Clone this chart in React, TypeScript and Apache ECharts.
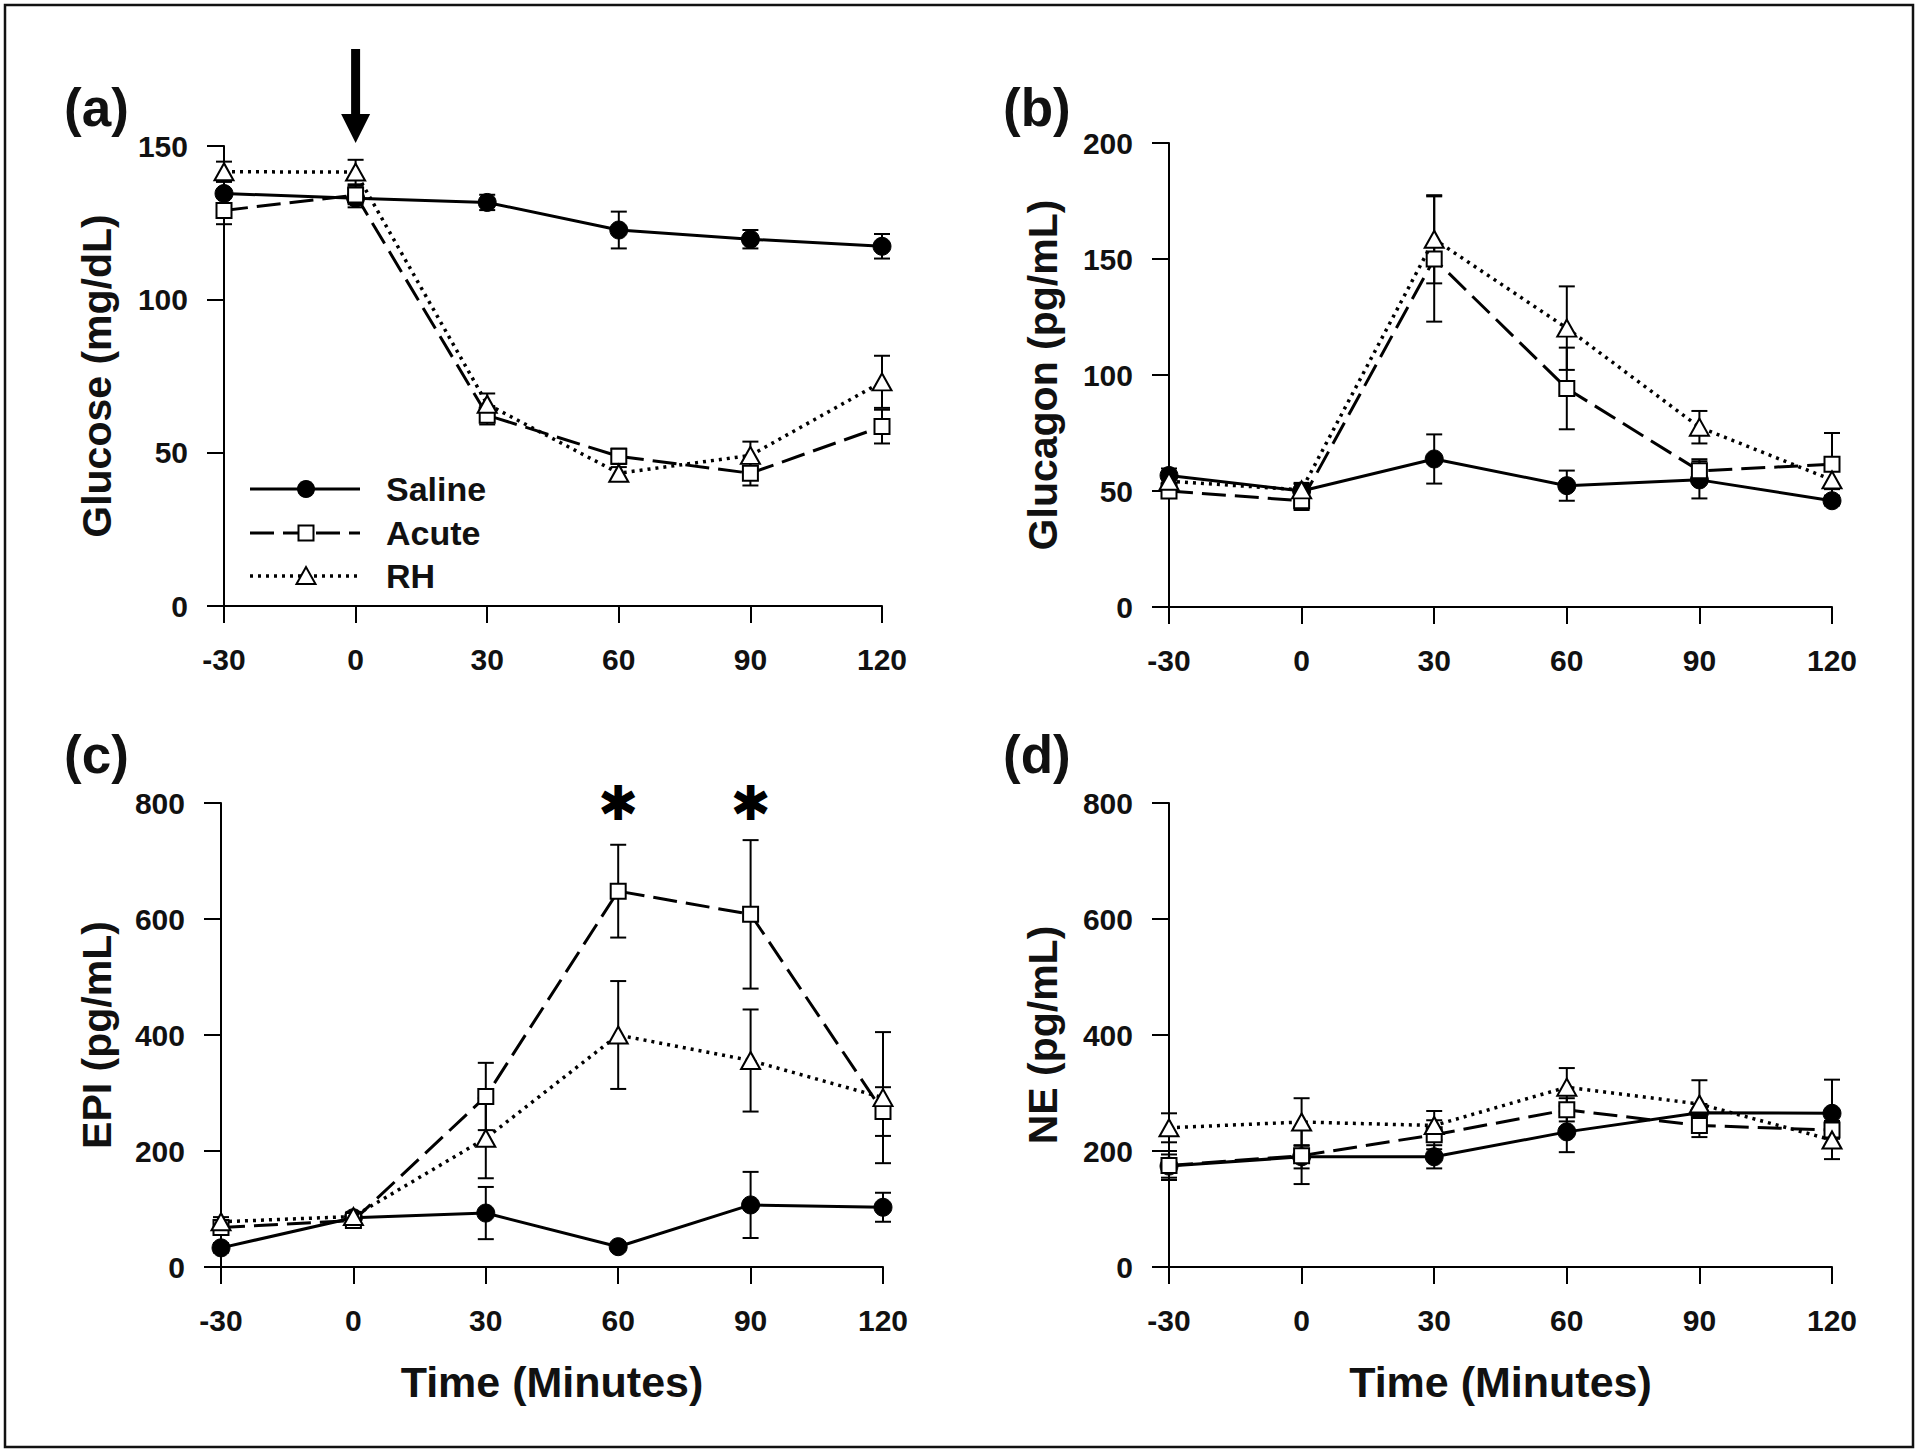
import React, { useEffect, useRef } from "react";
import * as echarts from "echarts";

// ---------- data ----------
const times = [-30, 0, 30, 60, 90, 120];

const glucoseSaline = [134.5, 133, 131.6, 122.6, 119.6, 117.3];
const glucoseSalineErr = [4, 3, 2.5, 6, 3, 4];
const glucoseAcute = [129, 134, 62.2, 48.8, 43.3, 58.5];
const glucoseAcuteErr = [4.5, 3, 3, 2.5, 4, 5.5];
const glucoseRH = [141.6, 141.5, 65.8, 43.3, 49.1, 73.1];
const glucoseRHErr = [3.3, 4, 3.5, 2, 4.5, 8.5];

const glucagonSaline = [56.7, 50, 63.8, 52.3, 54.8, 45.8];
const glucagonSalineErr = [3, 3, 10.6, 6.5, 8, 2];
const glucagonAcute = [50, 45.8, 150, 94.2, 58.7, 61.5];
const glucagonAcuteErr = [3, 4, 27, 17.6, 5, 13.5];
const glucagonRH = [54.2, 50.5, 158.5, 120.2, 77.5, 54.8];
const glucagonRHErr = [3, 3, 19, 18, 7, 4];

const epiSaline = [33, 85, 93, 35, 107, 103];
const epiSalineErr = [8, 8, 45, 6, 57, 25];
const epiAcute = [68, 80, 294, 648, 608, 268];
const epiAcuteErr = [10, 10, 58, 80, 128, 42];
const epiRH = [78, 87, 222, 400, 356, 292];
const epiRHErr = [8, 8, 69, 93, 88, 113];

const neSaline = [174, 190, 190, 233, 266, 265];
const neSalineErr = [20, 20, 20, 35, 15, 58];
const neAcute = [175, 192, 228, 271, 244, 236];
const neAcuteErr = [25, 49, 25, 20, 20, 15];
const neRH = [240, 250, 244, 310, 281, 219];
const neRHErr = [25, 41, 25, 33, 41, 33];

const seriesNames = ["Saline", "Acute", "RH"];
const panelLabels = ["(a)", "(b)", "(c)", "(d)"];
const yTitles = ["Glucose (mg/dL)", "Glucagon (pg/mL)", "EPI (pg/mL)", "NE (pg/mL)"];
const xTitle = "Time (Minutes)";
const yMax = [150, 200, 800, 800];
const yInterval = [50, 50, 200, 200];
const starTimes = [60, 90];
const starLevel = 800;
const arrowTime = 0;

const panelData = [
  [glucoseSaline, glucoseSalineErr, glucoseAcute, glucoseAcuteErr, glucoseRH, glucoseRHErr],
  [glucagonSaline, glucagonSalineErr, glucagonAcute, glucagonAcuteErr, glucagonRH, glucagonRHErr],
  [epiSaline, epiSalineErr, epiAcute, epiAcuteErr, epiRH, epiRHErr],
  [neSaline, neSalineErr, neAcute, neAcuteErr, neRH, neRHErr],
];

// ---------- styles ----------
const FONT = "'Liberation Sans', Arial, Helvetica, sans-serif";
const INK = "#111";
const grids = [
  { left: 224, top: 146, width: 658, height: 460 },
  { left: 1169, top: 143, width: 663, height: 464 },
  { left: 221, top: 803, width: 662, height: 464 },
  { left: 1169, top: 803, width: 663, height: 464 },
];

const lineStyles: any[] = [
  { color: "#000", width: 3, type: "solid" },
  { color: "#000", width: 3, type: [24, 9] },
  { color: "#000", width: 3.5, type: [3, 5] },
];
const symbols = ["circle", "rect", "triangle"];
const symbolSizes: any[] = [18, 15, [19, 17]];
const itemStyles = [
  { color: "#000", borderColor: "#000", borderWidth: 1 },
  { color: "#fff", borderColor: "#000", borderWidth: 2 },
  { color: "#fff", borderColor: "#000", borderWidth: 2 },
];

function errSeries(gi: number, name: string, vals: number[], errs: number[]) {
  return {
    type: "custom",
    name: name + " SEM",
    xAxisIndex: gi,
    yAxisIndex: gi,
    z: 1,
    silent: true,
    data: times.map((t, k) => [t, vals[k] - errs[k], vals[k] + errs[k]]),
    encode: { x: 0, y: [1, 2] },
    renderItem: (_params: any, api: any) => {
      const lo = api.coord([api.value(0), api.value(1)]);
      const hi = api.coord([api.value(0), api.value(2)]);
      const w = 8;
      const style = { stroke: "#000", lineWidth: 2, fill: "none" };
      return {
        type: "group",
        children: [
          { type: "line", shape: { x1: lo[0], y1: lo[1], x2: hi[0], y2: hi[1] }, style },
          { type: "line", shape: { x1: hi[0] - w, y1: hi[1], x2: hi[0] + w, y2: hi[1] }, style },
          { type: "line", shape: { x1: lo[0] - w, y1: lo[1], x2: lo[0] + w, y2: lo[1] }, style },
        ],
      };
    },
  };
}

function buildOption() {
  const series: any[] = [];
  panelData.forEach((pd, gi) => {
    for (let s = 0; s < 3; s++) {
      series.push(errSeries(gi, seriesNames[s], pd[s * 2], pd[s * 2 + 1]));
    }
    for (let s = 0; s < 3; s++) {
      series.push({
        type: "line",
        name: seriesNames[s],
        xAxisIndex: gi,
        yAxisIndex: gi,
        z: 2 + s,
        data: times.map((t, k) => [t, pd[s * 2][k]]),
        lineStyle: lineStyles[s],
        symbol: symbols[s],
        symbolSize: symbolSizes[s],
        showSymbol: true,
        itemStyle: itemStyles[s],
        silent: true,
      });
    }
  });

  const axisText = { fontSize: 30, fontWeight: "bold", fontFamily: FONT, color: INK };
  return {
    animation: false,
    backgroundColor: "#fff",
    grid: grids.map((g) => ({ ...g, containLabel: false })),
    xAxis: grids.map((_g, i) => ({
      gridIndex: i,
      type: "value",
      min: -30,
      max: 120,
      interval: 30,
      axisLine: { show: true, onZero: false, lineStyle: { color: "#000", width: 2 } },
      axisTick: { show: true, inside: false, length: 17, lineStyle: { color: "#000", width: 2 } },
      axisLabel: { ...axisText, margin: 38 },
      splitLine: { show: false },
    })),
    yAxis: grids.map((_g, i) => ({
      gridIndex: i,
      type: "value",
      min: 0,
      max: yMax[i],
      interval: yInterval[i],
      axisLine: { show: true, onZero: false, lineStyle: { color: "#000", width: 2 } },
      axisTick: { show: true, inside: false, length: 17, lineStyle: { color: "#000", width: 2 } },
      axisLabel: { ...axisText, margin: 36 },
      splitLine: { show: false },
    })),
    series,
  };
}

function txt(text: string, x: number, y: number, size: number, align: string, extra: any = {}) {
  return {
    type: "text",
    x,
    y,
    silent: true,
    ...extra,
    style: {
      text,
      fontSize: size,
      fontWeight: "bold",
      fontFamily: FONT,
      fill: INK,
      align,
      verticalAlign: "middle",
      textAlign: align,
      textVerticalAlign: "middle",
    },
  };
}

export default function App() {
  const ref = useRef<HTMLDivElement>(null);
  useEffect(() => {
    if (!ref.current) return;
    const chart = echarts.init(ref.current, undefined, { renderer: "svg" });
    chart.setOption(buildOption());

    const g: any[] = [];
    // frame
    g.push({
      type: "rect",
      silent: true,
      shape: { x: 5, y: 5, width: 1908, height: 1442 },
      style: { fill: "none", stroke: "#111", lineWidth: 2.5 },
      z: 0,
    });
    // panel labels
    const labelPos = [
      [64, 107],
      [1003, 107],
      [64, 754],
      [1003, 754],
    ];
    panelLabels.forEach((l, i) => g.push(txt(l, labelPos[i][0], labelPos[i][1], 53, "left")));
    // y titles
    const yTitleX = [97, 1043, 97, 1043];
    yTitles.forEach((t, i) => {
      const gr = grids[i];
      g.push(txt(t, yTitleX[i], gr.top + gr.height / 2, 41, "center", { rotation: Math.PI / 2 }));
    });
    // x titles (bottom panels)
    [2, 3].forEach((i) => {
      const gr = grids[i];
      g.push(txt(xTitle, gr.left + gr.width / 2, 1382, 43, "center"));
    });
    // legend (panel a)
    const legY = [489, 533, 576];
    const legX0 = 250;
    const legX1 = 360;
    const legMid = 306;
    seriesNames.forEach((n, s) => {
      const ls = lineStyles[s];
      g.push({
        type: "line",
        silent: true,
        shape: { x1: legX0, y1: legY[s], x2: legX1, y2: legY[s] },
        style: { stroke: "#000", lineWidth: ls.width, lineDash: Array.isArray(ls.type) ? ls.type : null },
        z: 10,
      });
      if (s === 0) {
        g.push({ type: "circle", silent: true, shape: { cx: legMid, cy: legY[s], r: 9 }, style: { fill: "#000" }, z: 11 });
      } else if (s === 1) {
        g.push({
          type: "rect",
          silent: true,
          shape: { x: legMid - 7.5, y: legY[s] - 7.5, width: 15, height: 15 },
          style: { fill: "#fff", stroke: "#000", lineWidth: 2 },
          z: 11,
        });
      } else {
        g.push({
          type: "polygon",
          silent: true,
          shape: {
            points: [
              [legMid - 9.5, legY[s] + 8],
              [legMid + 9.5, legY[s] + 8],
              [legMid, legY[s] - 9],
            ],
          },
          style: { fill: "#fff", stroke: "#000", lineWidth: 2 },
          z: 11,
        });
      }
      g.push(txt(n, 386, legY[s], 34, "left", { z: 11 }));
    });
    // arrow at injection time (panel a)
    const ap = chart.convertToPixel({ gridIndex: 0 } as any, [arrowTime, yMax[0]]) as number[];
    const tip = ap[1] - 3;
    g.push({
      type: "rect",
      silent: true,
      shape: { x: ap[0] - 4.5, y: tip - 94, width: 9, height: 68 },
      style: { fill: "#000" },
    });
    g.push({
      type: "polygon",
      silent: true,
      shape: {
        points: [
          [ap[0] - 14.5, tip - 29],
          [ap[0] + 14.5, tip - 29],
          [ap[0], tip],
        ],
      },
      style: { fill: "#000" },
    });
    // significance asterisks (panel c)
    starTimes.forEach((t) => {
      const p = chart.convertToPixel({ gridIndex: 2 } as any, [t, starLevel]) as number[];
      g.push({
        type: "text",
        x: p[0],
        y: p[1],
        silent: true,
        style: {
          text: "✱",
          fontSize: 48,
          fontFamily: "'DejaVu Sans', sans-serif",
          fontWeight: "bold",
          fill: "#000",
          align: "center",
          verticalAlign: "middle",
          textAlign: "center",
          textVerticalAlign: "middle",
        },
      });
    });

    chart.setOption({ graphic: g });
    return () => chart.dispose();
  }, []);

  return (
    <div
      ref={ref}
      style={{ position: "absolute", left: 0, top: 0, width: 1920, height: 1453, background: "#fff" }}
    />
  );
}
